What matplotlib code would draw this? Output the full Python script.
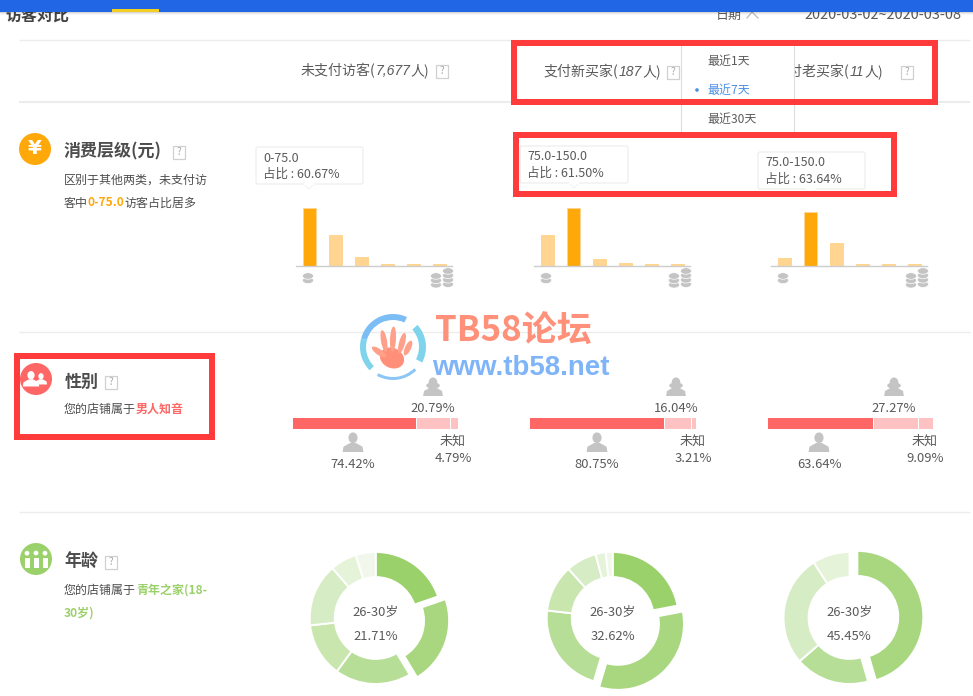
import matplotlib
matplotlib.use('Agg')
import matplotlib.pyplot as plt
from matplotlib.patches import Rectangle, Circle, Ellipse, Wedge, FancyBboxPatch, Polygon

plt.rcParams['font.family'] = ['Noto Sans CJK SC', 'DejaVu Sans']

W, H = 973, 696

# data
columns = ['未支付访客', '支付新买家', '支付老买家']
column_counts = ['7,677', '187', '11']
dropdown_items = ['最近1天', '最近7天', '最近30天']
spend_values = [
    [60.67, 32.0, 9.5, 1.8, 1.8, 1.8],
    [33.0, 61.50, 7.0, 3.0, 2.0, 2.0],
    [9.09, 63.64, 27.27, 1.8, 1.8, 1.8],
]
spend_labels = ['0-75.0', '75.0-150.0', '75.0-150.0']
spend_share = ['60.67%', '61.50%', '63.64%']
spend_active = [0, 1, 1]
male = [74.42, 80.75, 63.64]
female = [20.79, 16.04, 27.27]
unknown = [4.79, 3.21, 9.09]
age_values = [
    [19.7, 21.71, 18.6, 13.2, 15.4, 6.5, 4.89],
    [22.0, 32.62, 22.2, 11.5, 7.5, 2.5, 1.68],
    [45.45, 18.18, 27.27, 9.09],
]
age_active = [1, 1, 0]
age_share = ['21.71%', '32.62%', '45.45%']

ORANGE = '#FFA80A'
RED = '#FF6666'
GREEN = '#9BD16B'
TXT = '#5a5a5a'
DARK = '#4d4d4d'
MARK = '#FF3B3B'
GREY = '#c4c4c4'
greens = ['#9BD16B', '#A8D780', '#B7DE96', '#C9E6AF', '#D6ECC4', '#E5F3D9', '#F1F8EB']
greens3 = ['#A8D780', '#B7DE96', '#D6ECC4', '#E5F3D9']


def px(size):
    return size * 72 / 100


fig = plt.figure(figsize=(W / 100, H / 100), dpi=100, facecolor='white')
main = fig.add_axes([0, 0, 1, 1])
main.set_xlim(0, W)
main.set_ylim(H, 0)
main.axis('off')


def sub_axes(x0, y0, w, h):
    ax = fig.add_axes([x0 / W, 1 - (y0 + h) / H, w / W, h / H])
    ax.patch.set_alpha(0)
    return ax


def label(x, y, s, size=13, color=TXT, ha='center', weight='normal', z=5, **kw):
    return main.text(x, y, s, fontsize=px(size), color=color, ha=ha, va='center',
                     fontweight=weight, zorder=z, **kw)


def runs(x, y, parts, size=12, z=5):
    # text pieces in a row, each with its own colour / weight
    rend = fig.canvas.get_renderer()
    for part in parts:
        s, color, weight = part[:3]
        kw = part[3] if len(part) > 3 else {}
        t = label(x, y, s, size, color, 'left', weight, z, **kw)
        x += t.get_window_extent(rend).width
    return x


def qbox(x, y):
    main.add_patch(Rectangle((x - 6, y - 6.5), 12, 13, fc='white', ec='#d0d0d0', lw=0.9, zorder=5))
    label(x, y, '?', 10, '#aaaaaa')


def hline(y, x0=19, x1=970, lw=1.0, color='#ececec'):
    main.plot([x0, x1], [y, y], color=color, lw=lw, zorder=1, solid_capstyle='butt')


def person(x, y, s, color, z=6):
    main.add_patch(Ellipse((x, y - 0.25 * s), 0.48 * s, 0.56 * s, fc=color, ec='none', zorder=z))
    main.add_patch(Polygon([(x - 0.55 * s, y + 0.5 * s), (x + 0.55 * s, y + 0.5 * s),
                            (x + 0.5 * s, y + 0.22 * s), (x + 0.14 * s, y + 0.02 * s),
                            (x - 0.14 * s, y + 0.02 * s), (x - 0.5 * s, y + 0.22 * s)],
                           fc=color, ec='none', zorder=z))


def woman(x, y, s, color):
    person(x, y, s, color)
    main.add_patch(Ellipse((x, y - 0.08 * s), 0.76 * s, 0.34 * s, fc=color, ec='none', zorder=6))


def coins(x, top, n):
    for i in range(n):
        main.add_patch(Ellipse((x, top + 3 + i * 4.4), 11, 6.5, fc=GREY, ec='white', lw=0.5,
                               zorder=4 + (n - i) * 0.01))


def red_box(x0, y0, x1, y1, t=6):
    main.add_patch(Rectangle((x0 + t / 2, y0 + t / 2), x1 - x0 - t, y1 - y0 - t, fc='none',
                             ec=MARK, lw=px(t), zorder=20, joinstyle='miter'))


# page header
label(5, 16, '访客对比', 16, '#444444', 'left', 'bold', z=2)
label(729, 15, '日期', 13, TXT, z=2)
main.plot([747, 752, 758], [18, 12, 18], color='#bbbbbb', lw=0.9, zorder=2)
label(883, 15, '2020-03-02~2020-03-08', 14.5, TXT, z=2)
for i, a in enumerate([0.16, 0.08, 0.03]):
    main.add_patch(Rectangle((0, 12 + i), W, 1, fc='black', alpha=a, ec='none', zorder=3))
main.add_patch(Rectangle((0, 0), W, 12, fc='#2166E4', ec='none', zorder=4))
main.add_patch(Rectangle((112, 9), 47, 3, fc='#F5CE22', ec='none', zorder=5))

hline(40)
hline(102, lw=1.5)
hline(332)
hline(512)

# column headers
hx = [301, 544, 775]
hy = [71, 72, 72]
qx = [442, 673, 907]
for i in range(3):
    runs(hx[i], hy[i], [(columns[i] + '(', TXT, 'normal'),
                        (column_counts[i], TXT, 'normal', {'family': 'Liberation Sans', 'style': 'italic'}),
                        ('人)', TXT, 'normal')], 14)
    qbox(qx[i], hy[i])

# dropdown covers the third header
main.add_patch(Rectangle((681, 41), 113, 94, fc='white', ec='#dddddd', lw=0.8, zorder=8))
for i, a in enumerate([0.07, 0.05, 0.03, 0.015]):
    main.add_patch(Rectangle((684, 135 + i), 108, 1, fc='black', alpha=a, ec='none', zorder=8))
for i, s in enumerate(dropdown_items):
    label(707, 61 + 29 * i, s, 12, '#4A90E2' if i == 1 else TXT, 'left', z=9)
main.add_patch(Circle((697, 90), 1.8, fc='#4A90E2', ec='none', zorder=9))

# left titles
main.add_patch(Circle((35, 149), 16, fc=ORANGE, ec='none', zorder=5))
label(35, 148, '¥', 20, 'white', weight='bold', z=6, family='DejaVu Sans')
label(64, 151, '消费层级(元)', 17, DARK, 'left', 'bold')
qbox(179, 152)
label(64, 180, '区别于其他两类，未支付访', 12, DARK, 'left')
runs(64, 203, [('客中', DARK, 'normal'), ('0-75.0', ORANGE, 'bold'),
               ('访客占比居多', DARK, 'normal')], 12)

main.add_patch(Circle((36, 379), 16, fc=RED, ec='none', zorder=5))
person(41, 379, 11, 'white')
person(31, 379, 15, 'white', z=7)
label(65, 382, '性别', 17, DARK, 'left', 'bold')
qbox(111, 382)
runs(64, 409, [('您的店铺属于', DARK, 'normal'), ('男人知音', RED, 'bold')], 12)

main.add_patch(Circle((36, 559), 16, fc=GREEN, ec='none', zorder=5))
for dx, s in [(-9, 8), (9, 8), (0, 10)]:
    main.add_patch(Circle((36 + dx, 554 - s * 0.1), 2.4, fc='white', ec='none', zorder=6))
    main.add_patch(Rectangle((36 + dx - 2.5, 558), 5, 8 + s * 0.2, fc='white', ec='none', zorder=6))
label(64, 562, '年龄', 17, DARK, 'left', 'bold')
qbox(111, 562)
runs(64, 590, [('您的店铺属于', DARK, 'normal'), ('青年之家(18-', GREEN, 'bold')], 12)
label(64, 613, '30岁)', 12, GREEN, 'left', 'bold')

# spend bars
bar_left = [296, 534, 771]
bar_top = [62.8, 64.0, 70.6]
tip_x = [255, 519, 757]
tip_y = [146, 145, 151]
tip_w = [109, 110, 109]
point_x = [309, 574, 811]
for i in range(3):
    ax = sub_axes(bar_left[i], 206, 156, 60)
    cols = ['#FFD591'] * 6
    cols[spend_active[i]] = ORANGE
    ax.bar(range(6), spend_values[i], width=0.5, color=cols, edgecolor='#FFD591', linewidth=0.7)
    ax.set_xlim(-0.52, 5.48)
    ax.set_ylim(0, bar_top[i])
    for s in ['top', 'left', 'right']:
        ax.spines[s].set_visible(False)
    ax.spines['bottom'].set_color('#cccccc')
    ax.spines['bottom'].set_linewidth(1)
    ax.set_xticks([])
    ax.set_yticks([])

    x0 = bar_left[i]
    coins(x0 + 12, 273, 2)
    coins(x0 + 140, 273, 3)
    coins(x0 + 152, 268, 4)

    # tooltip
    main.add_patch(FancyBboxPatch((tip_x[i] + 1, tip_y[i] + 1), tip_w[i] - 2, 37,
                                  boxstyle='round,pad=0,rounding_size=2', fc='white', ec='#eeeeee',
                                  lw=0.9, zorder=4))
    main.add_patch(Polygon([(point_x[i] - 5, tip_y[i] + 38), (point_x[i] + 5, tip_y[i] + 38),
                            (point_x[i], tip_y[i] + 43)], fc='white', ec='#eeeeee', lw=0.6, zorder=4))
    main.add_patch(Rectangle((point_x[i] - 5, tip_y[i] + 37), 10, 1.5, fc='white', ec='none', zorder=4))
    label(tip_x[i] + 8, tip_y[i] + 12, spend_labels[i], 12.5, TXT, 'left')
    label(tip_x[i] + 8, tip_y[i] + 28, '占比 : ' + spend_share[i], 12.5, TXT, 'left')

# gender bars
stack_left = [292, 529, 767]
stack_w = [166, 167, 166]
woman_x = [433, 676, 894]
man_x = [353, 597, 819]
unk_x = [453, 693, 925]
for i in range(3):
    ax = sub_axes(stack_left[i], 417, stack_w[i], 12)
    ax.barh(0, male[i], color=RED, height=1, edgecolor='white', linewidth=0.7)
    ax.barh(0, female[i], left=male[i], color='#FFC2C2', height=1, edgecolor='white', linewidth=0.7)
    ax.barh(0, unknown[i], left=male[i] + female[i], color='#FFC2C2', height=1, edgecolor='white', linewidth=0.7)
    ax.set_xlim(0, 100)
    ax.set_ylim(-0.5, 0.5)
    ax.axis('off')

    woman(woman_x[i], 387, 18, GREY)
    person(man_x[i], 442.5, 19, GREY)
    label(woman_x[i], 408.5, '%.2f%%' % female[i], 13)
    label(man_x[i], 465, '%.2f%%' % male[i], 13)
    label(unk_x[i], 441, '未知', 13)
    label(unk_x[i], 459, '%.2f%%' % unknown[i], 13)

# age donuts
donut_x = [375.7, 612.7, 849.5]
for i in range(3):
    ax = sub_axes(donut_x[i] - 90, 618 - 90, 180, 180)
    vals = age_values[i]
    cols = greens3 if len(vals) == 4 else greens
    expl = [0.12 if j == age_active[i] else 0 for j in range(len(vals))]
    ax.pie(vals, colors=cols, startangle=90, counterclock=False, explode=expl, radius=1,
           normalize=True, wedgeprops=dict(width=0.38, edgecolor='white', linewidth=1.4))
    ax.set_xlim(-90 / 66, 90 / 66)
    ax.set_ylim(-90 / 66, 90 / 66)
    label(donut_x[i], 612, '26-30岁', 13)
    label(donut_x[i], 636, age_share[i], 13)

# watermark
main.add_patch(Wedge((393, 347), 33, 195, 295, width=6, fc='#7CBDF5', ec='none', zorder=10))
main.add_patch(Wedge((393, 347), 33, 135, 195, width=6, fc='#7FD4EC', ec='none', zorder=10))
main.add_patch(Wedge((393, 347), 33, 45, 119, width=3, fc='#8CC6F7', ec='none', zorder=10))
main.add_patch(Wedge((393, 347), 33, 318, 388, width=7, fc='#7FD4EC', ec='none', zorder=10))
main.add_patch(Ellipse((392, 358), 25, 20, angle=25, fc='#FF8F78', ec='none', zorder=10))
for fx, fy, ang, ln in [(384, 341, -10, 22), (393, 339, 3, 25), (402, 343, 15, 21), (408, 348, 25, 16), (379, 352, -55, 17)]:
    main.add_patch(Ellipse((fx, fy), 6, ln, angle=ang, fc='#FFA08A', ec='none', zorder=10))
label(435, 331, 'TB58论坛', 35, '#FF9079', 'left', 'bold', z=10)
label(432, 368, 'www.tb58.net', 27.6, '#7FB4F8', 'left', 'bold', z=10, family='Liberation Sans')

# red annotation boxes
red_box(511, 40, 938, 105)
red_box(513, 132, 897, 197)
red_box(14, 353, 215, 440)

fig.savefig('out.png', dpi=100, facecolor='white')
